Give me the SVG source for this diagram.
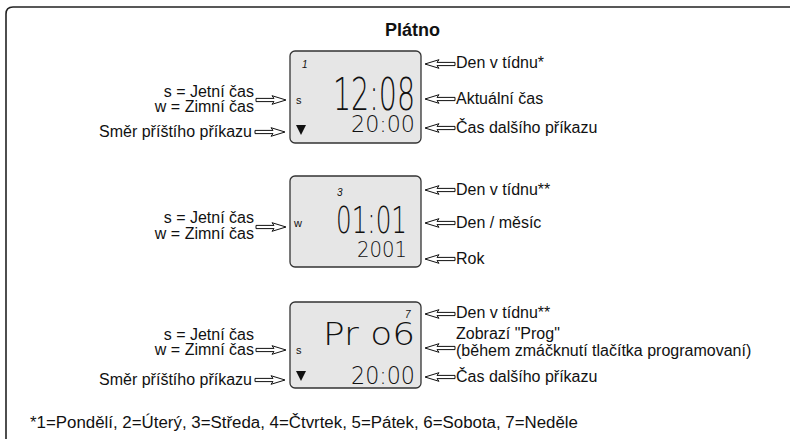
<svg xmlns="http://www.w3.org/2000/svg" xmlns:xlink="http://www.w3.org/1999/xlink" width="790" height="439" viewBox="0 0 790 439">
<style>
.lbl{font-family:"Liberation Sans",Arial,sans-serif;font-size:16px;fill:#111}
.end{text-anchor:end}
.ttl{font-family:"Liberation Sans",Arial,sans-serif;font-size:18px;font-weight:bold;fill:#111;text-anchor:middle}
.lcd{fill:#e6e6e6;stroke:#333;stroke-width:1.3}
.seg{font-family:"DejaVu Sans",sans-serif;font-weight:200;fill:#111}
.sm{font-family:"Liberation Sans",Arial,sans-serif;font-size:10px;font-style:italic;fill:#111}
.ind{font-family:"Liberation Sans",Arial,sans-serif;font-size:11px;fill:#111}
.arr{fill:#fff;stroke:#111;stroke-width:1;stroke-linejoin:miter}
</style>
<defs>
<path id="arr" class="arr" d="M0,-1.6 H18 L16,-4.3 L30,0 L16,4.3 L18,1.6 H0 Z"/>
</defs>
<rect width="790" height="439" fill="#fff"/>
<path d="M6,439 V14 Q6,7 13,7 H790" fill="none" stroke="#222" stroke-width="1.6"/>
<text class="ttl" x="412.5" y="36">Plátno</text>

<g id="lcd1">
<rect class="lcd" x="290" y="51" width="131" height="92" rx="5"/>
<text class="sm" x="302" y="68">1</text>
<text class="ind" x="296" y="104">s</text>
<polygon points="296,125 306,125 301,135" fill="#111"/>
<text class="seg" x="333" y="110" font-size="44" textLength="82" lengthAdjust="spacingAndGlyphs">12:08</text>
<text class="seg" x="351" y="132" font-size="23" textLength="64" lengthAdjust="spacingAndGlyphs">20:00</text>
</g>
<g id="lcd2">
<rect class="lcd" x="290" y="176" width="131" height="91" rx="5"/>
<text class="sm" x="337" y="196">3</text>
<text class="ind" x="294" y="227">w</text>
<text class="seg" x="336" y="233" font-size="38" textLength="71" lengthAdjust="spacingAndGlyphs">01:01</text>
<text class="seg" x="357" y="257" font-size="21" textLength="50" lengthAdjust="spacingAndGlyphs">2001</text>
</g>
<g id="lcd3">
<rect class="lcd" x="290" y="302" width="131" height="86" rx="5"/>
<text class="sm" x="405" y="318">7</text>
<text class="ind" x="296" y="354">s</text>
<polygon points="296,371 306,371 301,381" fill="#111"/>
<text class="seg" x="323" y="345" font-size="32" textLength="92" lengthAdjust="spacingAndGlyphs">Pr o6</text>
<text class="seg" x="351" y="384" font-size="24" textLength="64" lengthAdjust="spacingAndGlyphs">20:00</text>
</g>

<g id="labels-left">
<text class="lbl end" x="254" y="97">s = Jetní čas</text>
<text class="lbl end" x="254" y="112">w = Zimní čas</text>
<text class="lbl end" x="252" y="137">Směr příštího příkazu</text>
<text class="lbl end" x="254" y="223">s = Jetní čas</text>
<text class="lbl end" x="254" y="239">w = Zimní čas</text>
<text class="lbl end" x="254" y="340">s = Jetní čas</text>
<text class="lbl end" x="254" y="355">w = Zimní čas</text>
<text class="lbl end" x="252" y="385">Směr příštího příkazu</text>
</g>
<g id="labels-right">
<text class="lbl" x="456" y="68">Den v tídnu*</text>
<text class="lbl" x="456" y="104">Aktuální čas</text>
<text class="lbl" x="456" y="133">Čas dalšího příkazu</text>
<text class="lbl" x="456" y="195">Den v tídnu**</text>
<text class="lbl" x="456" y="228">Den / měsíc</text>
<text class="lbl" x="456" y="264">Rok</text>
<text class="lbl" x="456" y="318">Den v tídnu**</text>
<text class="lbl" x="456" y="339">Zobrazí "Prog"</text>
<text class="lbl" x="456" y="356">(během zmáčknutí tlačítka programovaní)</text>
<text class="lbl" x="456" y="382">Čas dalšího příkazu</text>
</g>
<g id="footnote">
<text class="lbl" x="30" y="428" textLength="548" lengthAdjust="spacingAndGlyphs">*1=Pondělí, 2=Úterý, 3=Středa, 4=Čtvrtek, 5=Pátek, 6=Sobota, 7=Neděle</text>
</g>

<g id="connectors">
<use xlink:href="#arr" transform="translate(256,100)"/>
<use xlink:href="#arr" transform="translate(255,132)"/>
<use xlink:href="#arr" transform="translate(256,227)"/>
<use xlink:href="#arr" transform="translate(256,350)"/>
<use xlink:href="#arr" transform="translate(255,380)"/>
<use xlink:href="#arr" transform="translate(455,64) scale(-1,1)"/>
<use xlink:href="#arr" transform="translate(455,99) scale(-1,1)"/>
<use xlink:href="#arr" transform="translate(455,128) scale(-1,1)"/>
<use xlink:href="#arr" transform="translate(455,190) scale(-1,1)"/>
<use xlink:href="#arr" transform="translate(455,223) scale(-1,1)"/>
<use xlink:href="#arr" transform="translate(455,259) scale(-1,1)"/>
<use xlink:href="#arr" transform="translate(455,314) scale(-1,1)"/>
<use xlink:href="#arr" transform="translate(455,348) scale(-1,1)"/>
<use xlink:href="#arr" transform="translate(455,377) scale(-1,1)"/>
</g>
</svg>
